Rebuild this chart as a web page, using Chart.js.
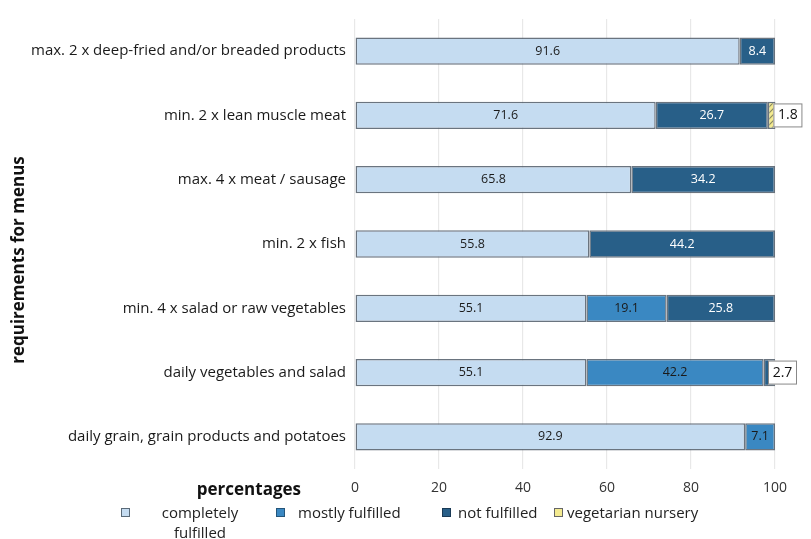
<!DOCTYPE html>
<html><head><meta charset="utf-8">
<script src="https://cdn.jsdelivr.net/npm/chart.js@4/dist/chart.umd.min.js"></script>
<style>
html,body{margin:0;padding:0;background:#fff;}
#wrap{position:relative;width:811px;height:539px;font-family:"Open Sans",sans-serif;}
canvas{position:absolute;left:0;top:0;}
.lg{position:absolute;font-size:15px;color:#222;line-height:20px;white-space:nowrap;}
.bx{position:absolute;width:7px;height:7px;border:1px solid #555;}
</style></head>
<body><div id="wrap"><canvas id="c" width="811" height="539"></canvas>
<div class="bx" style="left:121px;top:508px;background:#c5dcf1;border-color:#5a6a78"></div>
<div class="lg" style="left:158px;top:502px;text-align:center;width:84px">completely<br>fulfilled</div>
<div class="bx" style="left:276px;top:508px;background:#3a88c2;border-color:#24557a"></div>
<div class="lg" style="left:298px;top:502px">mostly fulfilled</div>
<div class="bx" style="left:442px;top:508px;background:#285f88;border-color:#1a3a55"></div>
<div class="lg" style="left:458px;top:502px">not fulfilled</div>
<div class="bx" style="left:554px;top:508px;background:#f3ea90;border-color:#666"></div>
<div class="lg" style="left:567px;top:502px">vegetarian nursery</div>
</div>
<script>
const categories = [
  "max. 2 x deep-fried and/or breaded products",
  "min. 2 x lean muscle meat",
  "max. 4 x meat / sausage",
  "min. 2 x fish",
  "min. 4 x salad or raw vegetables",
  "daily vegetables and salad",
  "daily grain, grain products and potatoes"
];
const completelyFulfilled = [91.6, 71.6, 65.8, 55.8, 55.1, 55.1, 92.9];
const mostlyFulfilled     = [null, null, null, null, 19.1, 42.2, 7.1];
const notFulfilled        = [8.4, 26.7, 34.2, 44.2, 25.8, 2.7, null];
const vegetarianNursery   = [null, 1.8, null, null, null, null, null];
const xTicks = [0, 20, 40, 60, 80, 100];

function hatch(){
  const p = document.createElement('canvas'); p.width = 6; p.height = 6;
  const g = p.getContext('2d');
  g.fillStyle = '#f3ea90'; g.fillRect(0,0,6,6);
  g.strokeStyle = '#8a8a60'; g.lineWidth = 1.2;
  g.beginPath(); g.moveTo(0,6); g.lineTo(6,0); g.moveTo(-3,3); g.lineTo(3,-3); g.moveTo(3,9); g.lineTo(9,3); g.stroke();
  return g.createPattern(p,'repeat');
}

const labelPlugin = {
  id: 'vals',
  afterDatasetsDraw(chart){
    const ctx = chart.ctx;
    ctx.save();
    const vf = '12.5px "Open Sans", sans-serif';
    ctx.font = vf;
    ctx.textAlign = 'center'; ctx.textBaseline = 'middle';
    chart.data.datasets.forEach((ds, di) => {
      const meta = chart.getDatasetMeta(di);
      meta.data.forEach((el, i) => {
        const v = ds.data[i];
        if (v == null) return;
        const txt = v.toFixed(1);
        if (v < 3) {
          const w = 29, h = 24;
          const x0 = di === 3 ? el.x - 2 : el.x - 7;
          ctx.fillStyle = '#fff'; ctx.fillRect(x0, el.y - h/2, w, h);
          ctx.strokeStyle = '#888'; ctx.lineWidth = 1; ctx.strokeRect(x0+0.5, el.y - h/2+0.5, w-1, h-1);
          ctx.fillStyle = '#111'; ctx.font = '14px "Open Sans", sans-serif';
          ctx.fillText(txt, x0 + w/2, el.y);
          ctx.font = vf;
        } else {
          ctx.fillStyle = di === 2 ? '#ffffff' : '#1a1a1a';
          ctx.fillText(txt, (el.x + el.base)/2, el.y);
        }
      });
    });
    // axis titles
    ctx.fillStyle = '#111';
    ctx.font = 'bold 17px "Open Sans", sans-serif';
    ctx.textAlign = 'right';
    ctx.fillText('percentages', 301, 490);
    ctx.translate(19, 260);
    ctx.rotate(-Math.PI/2);
    ctx.textAlign = 'center';
    ctx.font = 'bold 17px "Open Sans", sans-serif';
    ctx.fillText('requirements for menus', 0, 0);
    ctx.restore();
  }
};

const border = 'rgba(80,92,105,0.85)';
const common = { borderColor: border, borderWidth: 1.5, borderSkipped: false, barPercentage: 0.8, categoryPercentage: 0.53 };

new Chart(document.getElementById('c'), {
  type: 'bar',
  data: {
    labels: categories,
    datasets: [
      Object.assign({ label: 'completely fulfilled', data: completelyFulfilled, backgroundColor: '#c5dcf1' }, common),
      Object.assign({ label: 'mostly fulfilled', data: mostlyFulfilled, backgroundColor: '#3a88c2' }, common),
      Object.assign({ label: 'not fulfilled', data: notFulfilled, backgroundColor: '#285f88' }, common),
      Object.assign({ label: 'vegetarian nursery', data: vegetarianNursery, backgroundColor: hatch() }, common)
    ]
  },
  options: {
    indexAxis: 'y',
    responsive: false,
    animation: false,
    clip: false,
    layout: { padding: { left: 0, right: 36, top: 19, bottom: 39 } },
    plugins: { legend: { display: false }, tooltip: { enabled: false } },
    scales: {
      x: {
        stacked: true, min: 0, max: 100,
        afterBuildTicks(s){ s.ticks = xTicks.map(v => ({ value: v })); },
        ticks: { font: { size: 14, family: '"Open Sans", sans-serif' }, color: '#333', padding: 11 },
        grid: { color: '#e8e8e8', drawTicks: false, lineWidth: 1.2 },
        border: { display: false },
        afterFit(s){ s.height = 31; }
      },
      y: {
        stacked: true,
        ticks: { font: { size: 15, family: '"Open Sans", sans-serif' }, color: '#1a1a1a', padding: 9 },
        grid: { display: false, drawTicks: false },
        border: { display: false },
        afterFit(s){ s.width = 355; }
      }
    }
  },
  plugins: [labelPlugin]
});
</script></body></html>
